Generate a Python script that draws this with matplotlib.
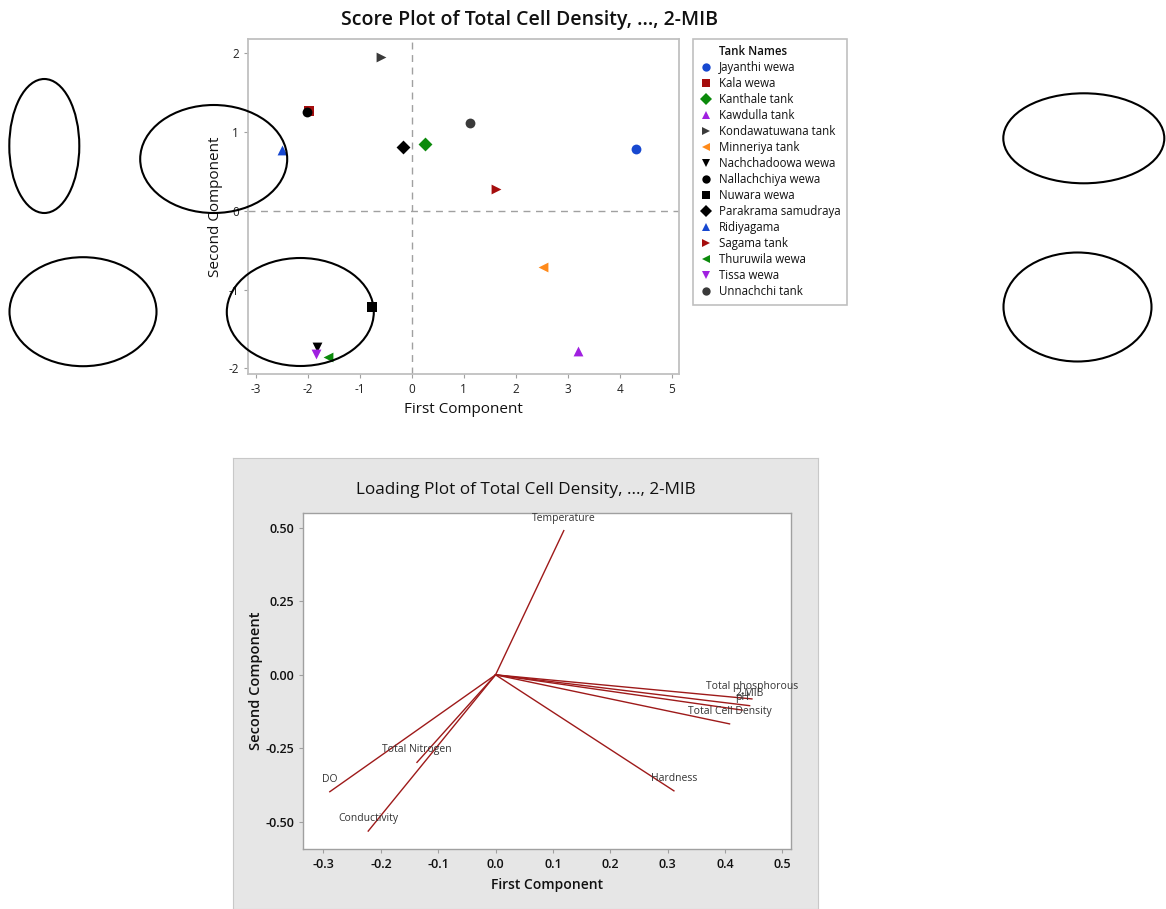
import matplotlib
matplotlib.use("Agg")
import matplotlib.pyplot as plt
from matplotlib.patches import Ellipse
from matplotlib.lines import Line2D

plt.rcParams['font.family'] = ['Open Sans', 'DejaVu Sans']
plt.rcParams['axes.unicode_minus'] = False

# ---------------- data ----------------
tanks = ["Jayanthi wewa", "Kala wewa", "Kanthale tank", "Kawdulla tank",
         "Kondawatuwana tank", "Minneriya tank", "Nachchadoowa wewa",
         "Nallachchiya wewa", "Nuwara wewa", "Parakrama samudraya",
         "Ridiyagama", "Sagama tank", "Thuruwila wewa", "Tissa wewa",
         "Unnachchi tank"]
pc1 = [4.31, -1.97, 0.26, 3.19, -0.60, 2.52, -1.82, -2.01, -0.77, -0.16,
       -2.49, 1.62, -1.61, -1.85, 1.12]
pc2 = [0.79, 1.27, 0.85, -1.78, 1.95, -0.71, -1.73, 1.25, -1.22, 0.81,
       0.77, 0.28, -1.85, -1.82, 1.12]
markers = ["o", "s", "D", "^", ">", "<", "v", "o", "s", "D", "^", ">", "<", "v", "o"]
colors = ["#1748d0", "#a50d0d", "#0b8a0b", "#a020e0", "#3a3a3a", "#ff8a1a",
          "#000000", "#000000", "#000000", "#000000", "#1748d0", "#a50d0d",
          "#0b8a0b", "#a020e0", "#3a3a3a"]

variables = ["Temperature", "Total phosphorous", "2-MIB", "pH",
             "Total Cell Density", "Hardness", "Total Nitrogen", "DO",
             "Conductivity"]
load1 = [0.119, 0.447, 0.443, 0.430, 0.408, 0.311, -0.137, -0.289, -0.222]
load2 = [0.491, -0.082, -0.105, -0.120, -0.167, -0.395, -0.298, -0.398, -0.532]

W, H = 1166, 909
fig = plt.figure(figsize=(W / 100, H / 100), dpi=100)
fig.patch.set_facecolor("white")

def fbox(x0, y0, x1, y1):
    return [x0 / W, 1 - y1 / H, (x1 - x0) / W, (y1 - y0) / H]

# ---------------- score plot ----------------
ax = fig.add_axes(fbox(248, 39, 679, 374))
for x, y, m, c in zip(pc1, pc2, markers, colors):
    ax.scatter(x, y, marker=m, color=c, s=50 if m != "s" else 45, zorder=3,
               linewidths=0)
ax.axhline(0, color="#a0a0a0", ls=(0, (5, 4)), lw=1, zorder=1)
ax.axvline(0, color="#a0a0a0", ls=(0, (5, 4)), lw=1, zorder=1)
ax.set_xlim(-3.15, 5.14)
ax.set_ylim(-2.07, 2.18)
ax.set_xticks(range(-3, 6))
ax.set_yticks(range(-2, 3))
for s in ax.spines.values():
    s.set_color("#c0c0c0")
    s.set_linewidth(1.3)
ax.tick_params(colors="#a0a0a0", labelcolor="#222222", labelsize=8.5,
               length=3, width=0.8)
ax.set_xlabel("First Component", fontsize=11, color="#111111", labelpad=4)
ax.set_ylabel("Second Component", fontsize=11, color="#111111", labelpad=4)
ax.set_title("Score Plot of Total Cell Density, ..., 2-MIB", fontsize=14,
             fontweight="semibold", color="#111111", pad=10, x=0.652)

handles = [Line2D([], [], ls="none", marker="", label="Tank Names")]
for t, m, c in zip(tanks, markers, colors):
    handles.append(Line2D([], [], ls="none", marker=m, color=c, markersize=6,
                          markeredgewidth=0, label=t))
leg = fig.legend(handles=handles, loc="upper left",
                 bbox_to_anchor=(693 / W, 1 - 39 / H), fontsize=8.3,
                 frameon=True, fancybox=False, edgecolor="#b0b0b0",
                 labelspacing=0.26, handletextpad=0.5, handlelength=1.2,
                 borderpad=0.55, borderaxespad=0)
leg.get_frame().set_linewidth(1.2)
leg.get_texts()[0].set_fontweight("semibold")
for t in leg.get_texts():
    t.set_color("#111111")

# ---------------- loading plot ----------------
panel = fig.add_axes(fbox(233, 458, 818, 909), zorder=0)
panel.set_facecolor("#e6e6e6")
panel.set_xticks([])
panel.set_yticks([])
for s in panel.spines.values():
    s.set_color("#c8c8c8")

ax2 = fig.add_axes(fbox(303.4, 513, 791.5, 849), zorder=1)
ax2.set_facecolor("white")
for v, x, y in zip(variables, load1, load2):
    ax2.plot([0, x], [0, y], color="#9e1a1a", lw=1.0)
    ax2.annotate(v, (x, y), xytext=(0, 7), textcoords="offset pixels",
                 ha="center", va="bottom", fontsize=7.5, color="#333333")
ax2.set_xlim(-0.335, 0.516)
ax2.set_ylim(-0.593, 0.551)
ax2.set_xticks([-0.3, -0.2, -0.1, 0.0, 0.1, 0.2, 0.3, 0.4, 0.5])
ax2.set_xticklabels(["-0.3", "-0.2", "-0.1", "0.0", "0.1", "0.2", "0.3", "0.4", "0.5"])
ax2.set_yticks([-0.5, -0.25, 0, 0.25, 0.5])
ax2.set_yticklabels(["-0.50", "-0.25", "0.00", "0.25", "0.50"])
for s in ax2.spines.values():
    s.set_color("#a0a0a0")
    s.set_linewidth(1.0)
ax2.tick_params(colors="#a0a0a0", labelcolor="#111111", labelsize=9,
                length=3, width=0.8)
for lab in ax2.get_xticklabels() + ax2.get_yticklabels():
    lab.set_fontweight("semibold")
ax2.set_xlabel("First Component", fontsize=10, fontweight="semibold",
               color="#111111", labelpad=5)
ax2.set_ylabel("Second Component", fontsize=10.5, fontweight="semibold",
               color="#111111", labelpad=2)
ax2.set_title("Loading Plot of Total Cell Density, ..., 2-MIB", fontsize=12.3,
              color="#111111", pad=14, x=0.455)

# ---------------- hand-drawn ellipses overlay ----------------
ov = fig.add_axes([0, 0, 1, 1], zorder=10)
ov.set_xlim(0, W)
ov.set_ylim(H, 0)
ov.axis("off")
ov.patch.set_alpha(0)
ell = [((44.3, 146), 70, 134), ((213.7, 159), 147, 108), ((83, 311.7), 147, 109),
       ((300.3, 312), 147, 108), ((1083.8, 138.3), 161, 90), ((1077.5, 307), 148, 109)]
for c, w, h in ell:
    ov.add_patch(Ellipse(c, w, h, fill=False, edgecolor="black", lw=1.5))

fig.savefig("out.png", dpi=100)
